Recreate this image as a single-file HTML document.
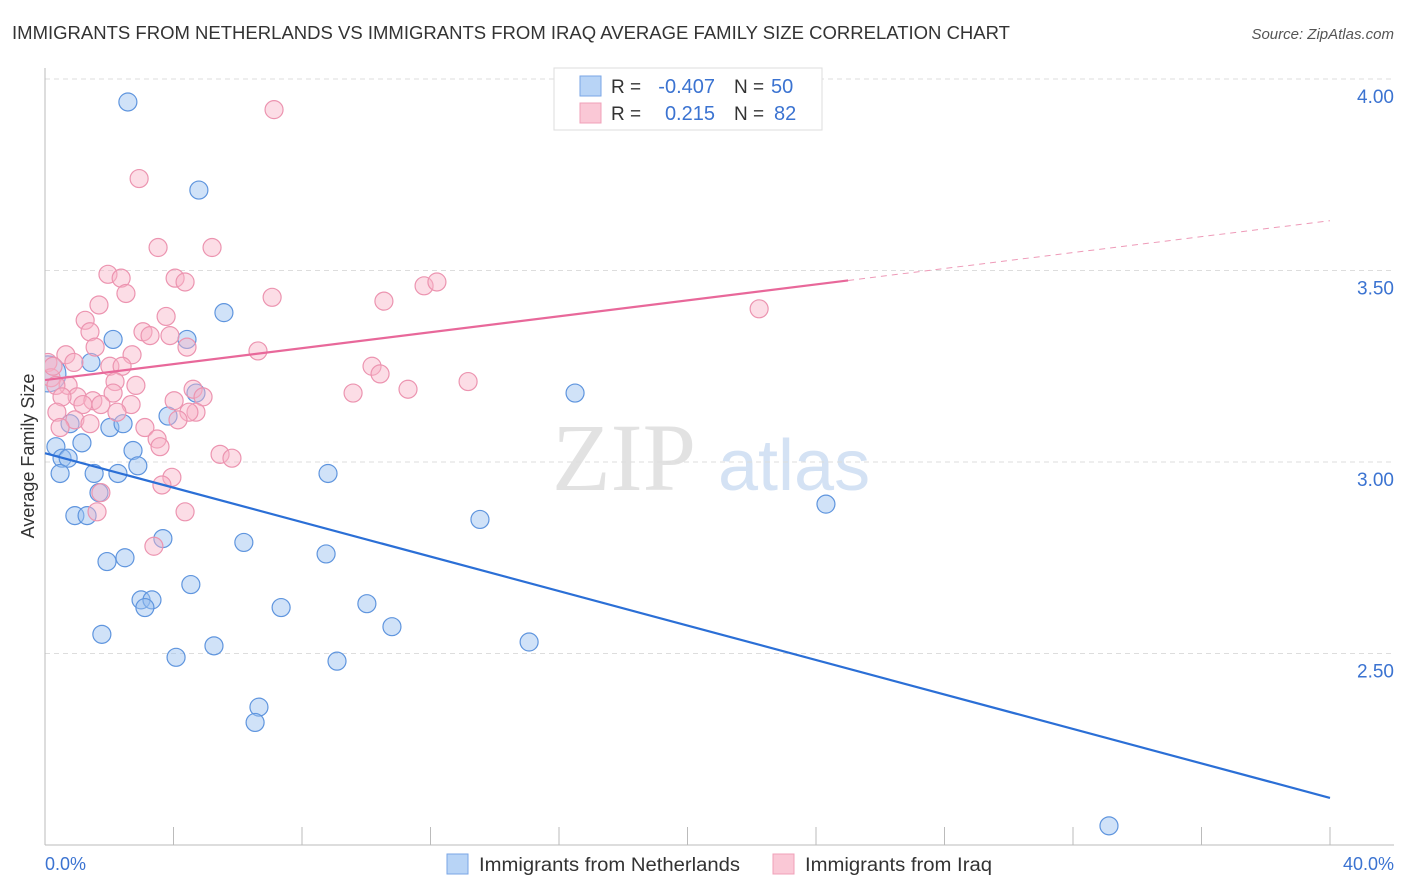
<!DOCTYPE html>
<html><head><meta charset="utf-8"><style>
body{margin:0;background:#fff;font-family:"Liberation Sans",sans-serif;}
svg{display:block}
</style></head><body>
<svg id="chart" width="1406" height="892" xmlns="http://www.w3.org/2000/svg">
<defs><clipPath id="plotclip"><rect x="45" y="60" width="1360" height="785"/></clipPath></defs>
<text x="12" y="39" font-size="18" fill="#333" textLength="998" lengthAdjust="spacingAndGlyphs">IMMIGRANTS FROM NETHERLANDS VS IMMIGRANTS FROM IRAQ AVERAGE FAMILY SIZE CORRELATION CHART</text>
<text x="1394" y="39" font-size="15" font-style="italic" fill="#555" text-anchor="end">Source: ZipAtlas.com</text>
<g>
<text x="552" y="490" font-size="96" font-family="Liberation Serif,serif" fill="#e2e2e2">ZIP</text>
<text x="718" y="490" font-size="72" fill="#d4e2f4">atlas</text>
</g>
<g id="grid"></g><g id="axes"></g><g id="pts" clip-path="url(#plotclip)"></g><g id="trend"></g>
<text transform="translate(34,456) rotate(-90)" font-size="18" fill="#333" text-anchor="middle">Average Family Size</text>
<text x="45" y="870" font-size="18" fill="#3b73d1">0.0%</text>
<text x="1394" y="870" font-size="18" fill="#3b73d1" text-anchor="end">40.0%</text>
<g>
<rect x="554" y="68" width="268" height="62" fill="#fff" stroke="#ddd"/>
<rect x="580" y="76" width="21" height="20" fill="#b8d4f6" stroke="#7aa6e6"/>
<rect x="580" y="103" width="21" height="20" fill="#fac8d6" stroke="#f0a0b8"/>
<text x="611" y="93" font-size="19" fill="#333">R =</text>
<text x="715" y="93" font-size="20" fill="#3b73d1" text-anchor="end">-0.407</text>
<text x="734" y="93" font-size="19" fill="#333">N =</text>
<text x="771" y="93" font-size="20" fill="#3b73d1">50</text>
<text x="611" y="120" font-size="19" fill="#333">R =</text>
<text x="715" y="120" font-size="20" fill="#3b73d1" text-anchor="end">0.215</text>
<text x="734" y="120" font-size="19" fill="#333">N =</text>
<text x="774" y="120" font-size="20" fill="#3b73d1">82</text>
</g>
<g>
<rect x="447" y="854" width="21" height="20" fill="#b8d4f6" stroke="#7aa6e6"/>
<text x="479" y="871" font-size="19" fill="#333" textLength="261" lengthAdjust="spacingAndGlyphs">Immigrants from Netherlands</text>
<rect x="773" y="854" width="21" height="20" fill="#fac8d6" stroke="#f0a0b8"/>
<text x="805" y="871" font-size="19" fill="#333" textLength="187" lengthAdjust="spacingAndGlyphs">Immigrants from Iraq</text>
</g>
</svg>
<script>
const yTicks=[4.0,3.5,3.0,2.5];
const yTickLabels=["4.00","3.50","3.00","2.50"];
const xTicks=[0,4,8,12,16,20,24,28,32,36,40];
const nlX=[2.58,4.79,5.57,4.42,2.12,1.43,16.50,4.70,3.83,2.02,2.43,0.34,1.15,0.78,0.53,0.72,0.47,2.74,2.89,2.27,1.53,8.81,1.68,0.93,1.31,24.31,13.54,3.67,6.19,8.75,1.93,2.49,4.54,2.99,3.33,3.11,7.35,10.02,10.80,1.77,15.07,5.26,4.08,9.09,6.66,6.54,33.12,0.09];
const nlY=[3.94,3.71,3.39,3.32,3.32,3.26,3.18,3.18,3.12,3.09,3.10,3.04,3.05,3.10,3.01,3.01,2.97,3.03,2.99,2.97,2.97,2.97,2.92,2.86,2.86,2.89,2.85,2.80,2.79,2.76,2.74,2.75,2.68,2.64,2.64,2.62,2.62,2.63,2.57,2.55,2.53,2.52,2.49,2.48,2.36,2.32,2.05,3.23];
const iqX=[7.13,2.93,3.52,5.20,1.96,2.37,4.05,4.36,7.07,2.52,1.68,11.80,12.20,10.55,22.23,3.77,1.25,3.05,1.40,3.27,4.42,3.89,1.56,2.71,0.65,0.09,2.02,2.40,0.90,6.63,10.18,10.43,13.17,11.30,9.59,2.83,2.18,4.61,4.92,0.72,0.19,0.34,1.00,2.12,2.68,0.53,1.49,1.74,1.18,0.37,4.02,2.24,4.70,4.48,4.14,0.93,1.40,3.11,3.49,3.58,5.45,5.82,3.95,3.64,1.74,1.62,4.36,3.39,0.47,0.25];
const iqY=[3.92,3.74,3.56,3.56,3.49,3.48,3.48,3.47,3.43,3.44,3.41,3.46,3.47,3.42,3.40,3.38,3.37,3.34,3.34,3.33,3.30,3.33,3.30,3.28,3.28,3.26,3.25,3.25,3.26,3.29,3.25,3.23,3.21,3.19,3.18,3.20,3.21,3.19,3.17,3.20,3.22,3.20,3.17,3.18,3.15,3.17,3.16,3.15,3.15,3.13,3.16,3.13,3.13,3.13,3.11,3.11,3.10,3.09,3.06,3.04,3.02,3.01,2.96,2.94,2.92,2.87,2.87,2.78,3.09,3.25];
const nlTrend=[3.023,2.123];
const iqTrend=[3.214,3.63];
const iqSolidEnd=25;
const NS="http://www.w3.org/2000/svg";
const X=v=>45+v/40*1285, Y=v=>79+(4-v)*383;
function mk(tag,at,parent){const e=document.createElementNS(NS,tag);for(const k in at)e.setAttribute(k,at[k]);document.getElementById(parent).appendChild(e);return e;}
yTicks.forEach((t,i)=>{
 const l=mk('line',{x1:45,x2:1394,y1:Y(t),y2:Y(t),stroke:'#ddd','stroke-dasharray':'5,4'},'grid');
 
 
 const tx=mk('text',{x:1394,y:Y(t)+24,'font-size':19,fill:'#3b73d1','text-anchor':'end'},'grid');
 tx.textContent=yTickLabels[i];
 
 
});
const ax=mk('line',{x1:45,x2:45,y1:68,y2:845,stroke:'#bbb'},'axes');


const bx=mk('line',{x1:45,x2:1394,y1:845,y2:845,stroke:'#bbb'},'axes');


xTicks.forEach(t=>{
 const l=mk('line',{x1:X(t),x2:X(t),y1:827,y2:845,stroke:'#bbb'},'axes');
 
 
});
nlX.forEach((v,i)=>{
 const big=i===nlX.length-1;
 const c=mk('circle',{cx:X(v),cy:Y(nlY[i]),r:big?18:9,fill:'rgba(150,190,240,0.45)',stroke:'#5f95de','stroke-width':1.2},'pts');
 
 
});
iqX.forEach((v,i)=>{
 const c=mk('circle',{cx:X(v),cy:Y(iqY[i]),r:9,fill:'rgba(248,180,200,0.45)',stroke:'#ec94b0','stroke-width':1.2},'pts');
 
 
});
const nl=mk('line',{x1:X(0),y1:Y(nlTrend[0]),x2:X(40),y2:Y(nlTrend[1]),stroke:'#2b6fd6','stroke-width':2.2},'trend');


const iqm=iqTrend[0]+(iqTrend[1]-iqTrend[0])*iqSolidEnd/40;
const iq=mk('line',{x1:X(0),y1:Y(iqTrend[0]),x2:X(iqSolidEnd),y2:Y(iqm),stroke:'#e8689a','stroke-width':2.2},'trend');


const iqd=mk('line',{x1:X(iqSolidEnd),y1:Y(iqm),x2:X(40),y2:Y(iqTrend[1]),stroke:'#ee9ab8','stroke-width':1,'stroke-dasharray':'6,5'},'trend');


</script>
</body></html>
